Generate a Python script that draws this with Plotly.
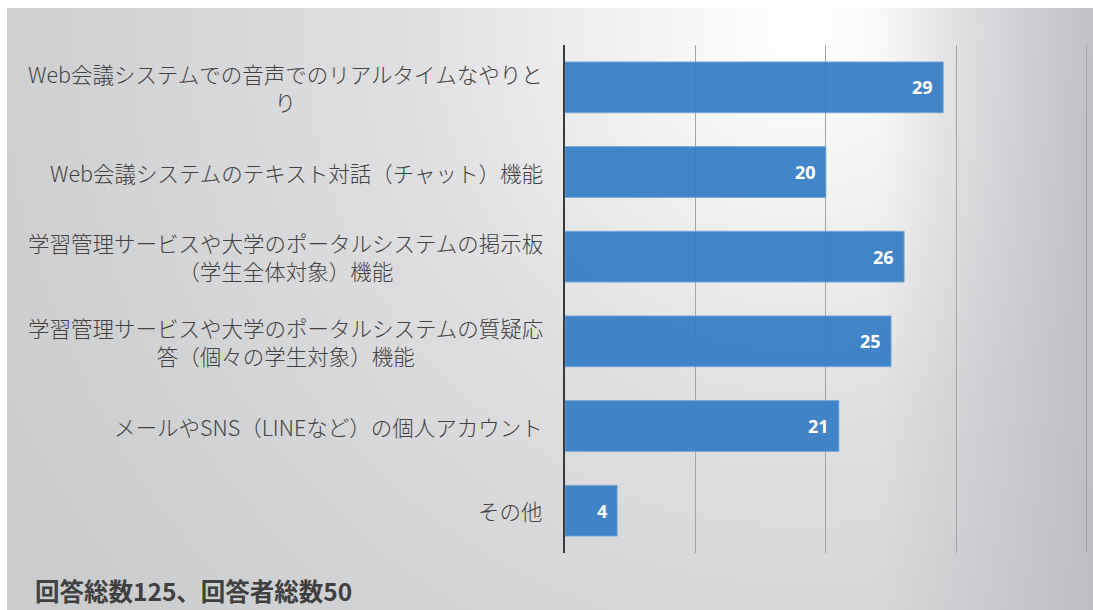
import base64
import plotly.graph_objects as go

# Survey: channels used for questions / communication with students
categories = [
    "Web会議システムでの音声でのリアルタイムなやりと<br>り",
    "Web会議システムのテキスト対話（チャット）機能",
    "学習管理サービスや大学のポータルシステムの掲示板<br>（学生全体対象）機能",
    "学習管理サービスや大学のポータルシステムの質疑応<br>答（個々の学生対象）機能",
    "メールやSNS（LINEなど）の個人アカウント",
    "その他",
]
counts = [29, 20, 26, 25, 21, 4]
footer_text = "回答総数125、回答者総数50"
x_range = [0, 40.1]
x_ticks = [0, 10, 20, 30, 40]

W, H = 1093, 610
M_L, M_R, M_T, M_B = 565, 5, 45, 57
PW, PH = W - M_L - M_R, H - M_T - M_B


def px_to_paper_x(px):
    return (px - M_L) / PW


def px_to_paper_y(py):
    return (H - M_B - py) / PH


# soft grey radial backdrop, brightest near the upper middle
bg_svg = f"""<svg xmlns="http://www.w3.org/2000/svg" width="{W}" height="{H}" viewBox="0 0 {W} {H}" preserveAspectRatio="none">
<defs>
<radialGradient id="g" gradientUnits="userSpaceOnUse" cx="800" cy="30" r="900">
<stop offset="0" stop-color="#ffffff"/>
<stop offset="0.12" stop-color="#f7f7f8"/>
<stop offset="0.45" stop-color="#dfdfe1"/>
<stop offset="0.8" stop-color="#d1d2d4"/>
<stop offset="1" stop-color="#cbccce"/>
</radialGradient>
<linearGradient id="h" gradientUnits="userSpaceOnUse" x1="880" y1="0" x2="{W}" y2="0">
<stop offset="0" stop-color="#b8babe" stop-opacity="0"/>
<stop offset="1" stop-color="#b8babe" stop-opacity="0.85"/>
</linearGradient>
</defs>
<rect width="{W}" height="{H}" fill="#ffffff"/>
<rect x="7" y="8" width="{W - 7}" height="{H - 8}" fill="url(#g)"/>
<rect x="7" y="8" width="{W - 7}" height="{H - 8}" fill="url(#h)"/>
</svg>"""
bg_uri = "data:image/svg+xml;base64," + base64.b64encode(bg_svg.encode()).decode()

fig = go.Figure()
fig.add_trace(
    go.Bar(
        x=counts,
        y=categories,
        orientation="h",
        width=0.6,
        marker=dict(
            color="rgba(52,124,196,0.93)",
            line=dict(color="rgba(120,168,218,0.9)", width=1),
        ),
        hoverinfo="skip",
    )
)

annotations = []
# category labels: right-aligned block, lines centred within it
for cat in categories:
    annotations.append(
        dict(
            xref="paper", yref="y", x=0, y=cat,
            xanchor="right", yanchor="middle", xshift=-20,
            text=cat, showarrow=False, align="center",
            font=dict(family="Noto Sans CJK JP", size=21.5, color="#424242",
                      weight=300),
        )
    )
# value labels inside the bar ends
for cat, v in zip(categories, counts):
    annotations.append(
        dict(
            xref="x", yref="y", x=v, y=cat,
            xanchor="right", yanchor="middle", xshift=-8,
            text=f"<b>{v}</b>", showarrow=False,
            font=dict(family="Open Sans", size=18, color="#ffffff"),
        )
    )
annotations.append(
    dict(
        xref="paper", yref="paper",
        x=px_to_paper_x(33), y=px_to_paper_y(590),
        xanchor="left", yanchor="middle",
        text=f"<b>{footer_text}</b>", showarrow=False,
        font=dict(family="Noto Sans CJK JP", size=24.5, color="#404040"),
    )
)

fig.update_layout(
    width=W,
    height=H,
    margin=dict(l=M_L, r=M_R, t=M_T, b=M_B, pad=0),
    paper_bgcolor="#ffffff",
    plot_bgcolor="rgba(0,0,0,0)",
    showlegend=False,
    bargap=0.4,
    annotations=annotations,
    images=[
        dict(
            source=bg_uri,
            xref="paper", yref="paper",
            x=px_to_paper_x(0), y=px_to_paper_y(0),
            sizex=W / PW, sizey=H / PH,
            xanchor="left", yanchor="top",
            sizing="stretch", layer="below",
        )
    ],
    xaxis=dict(
        range=x_range,
        tickvals=x_ticks,
        showticklabels=False,
        showgrid=True,
        gridcolor="#a3a4a6",
        gridwidth=1,
        zeroline=False,
        showline=False,
        fixedrange=True,
    ),
    yaxis=dict(
        categoryorder="array",
        categoryarray=categories[::-1],
        showticklabels=False,
        showgrid=False,
        zeroline=False,
        showline=True,
        linecolor="#3a3a3a",
        linewidth=2,
        ticks="",
        fixedrange=True,
    ),
)

fig.write_html("out.html", config={"displayModeBar": False})
